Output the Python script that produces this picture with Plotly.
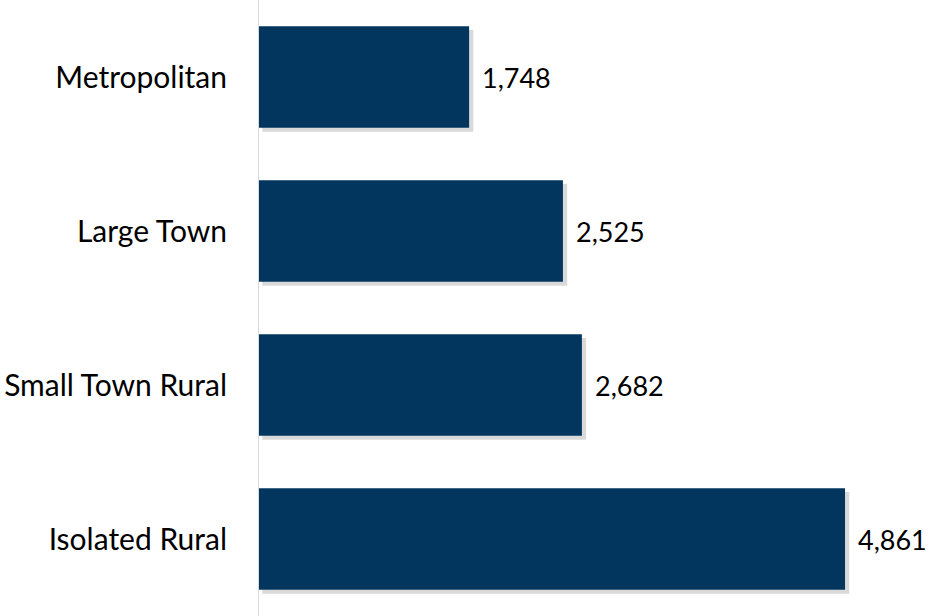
import plotly.graph_objects as go

categories = ["Metropolitan", "Large Town", "Small Town Rural", "Isolated Rural"]
values = [1748, 2525, 2682, 4861]
value_labels = ["1,748", "2,525", "2,682", "4,861"]

bar_color = "#02365F"
font_family = "Lato, 'Open Sans', sans-serif"

fig = go.Figure()

# soft drop shadow
fig.add_trace(go.Bar(
    y=categories, x=values, orientation="h",
    marker=dict(color="rgba(0,0,0,0.15)", line=dict(width=0)),
    width=0.66, offset=-0.33 + 0.025, base=[35] * len(values),
    hoverinfo="skip", showlegend=False,
))
fig.add_trace(go.Bar(
    y=categories, x=values, orientation="h",
    marker=dict(color=bar_color, line=dict(width=0)),
    width=0.66, offset=-0.33,
    showlegend=False,
))

for c, v, t in zip(categories, values, value_labels):
    fig.add_annotation(x=v, y=c, text=t, showarrow=False, xanchor="left",
                       xshift=11, font=dict(size=27, color="#000000", family=font_family))

fig.update_layout(
    width=928, height=616,
    margin=dict(l=258, r=0, t=0, b=0, autoexpand=False),
    paper_bgcolor="white", plot_bgcolor="white",
    barmode="overlay",
    font=dict(family=font_family, size=30, color="#000000"),
    xaxis=dict(range=[0, 5548], visible=False, fixedrange=True, automargin=False),
    yaxis=dict(autorange="reversed", showgrid=False, zeroline=False, automargin=False,
               showline=False, ticks="", ticklabelstandoff=30, fixedrange=True,
               tickfont=dict(size=30, color="#000000", family=font_family)),
    shapes=[dict(type="line", xref="x", yref="paper", x0=0, x1=0, y0=0, y1=1,
                 line=dict(color="#D9D9D9", width=2))],
)

fig.write_html("out.html", config={"displayModeBar": False},
               post_script="document.body.style.margin='0';document.body.style.overflow='hidden';")
